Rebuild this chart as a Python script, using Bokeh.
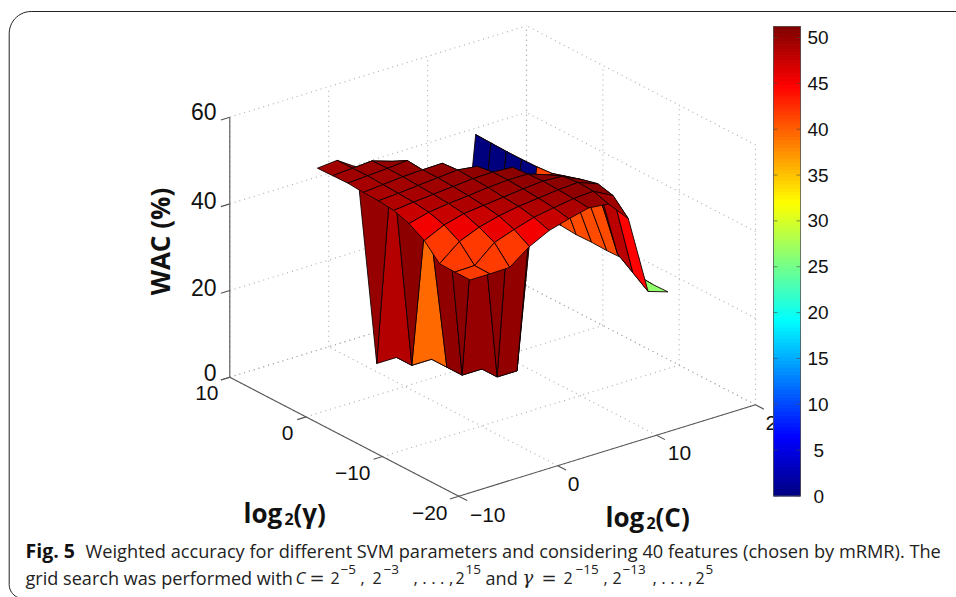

import numpy as np
from bokeh.plotting import figure
from bokeh.models import Range1d
from bokeh.core.properties import value
from bokeh.embed import file_html
from bokeh.resources import INLINE

# ---------- data ----------
log2_c = [-5, -3, -1, 1, 3, 5, 7, 9, 11, 13, 15]
log2_gamma = [-15, -13, -11, -9, -7, -5, -3, -1, 1, 3, 5]
wac_c_m5 = [41.8, 41.8, 41.9, 45.4, 47.5, 48.7, 49.1, 49.2, 49.5, 49.4, 49.3]
wac_c_m3 = [41.8, 41.9, 45.6, 47.6, 48.7, 49.2, 49.4, 49.6, 49.8, 49.7, 49.7]
wac_c_m1 = [41.9, 45.8, 47.5, 48.8, 49.3, 49.6, 49.8, 50.0, 50.1, 50.0, 46.7]
wac_c_1 = [45.3, 47.4, 48.7, 49.3, 49.7, 50.0, 50.2, 50.2, 50.5, 48.5, 0]
wac_c_3 = [47.6, 48.8, 49.5, 49.8, 50.2, 50.4, 50.6, 50.3, 39.5, 0, 0]
wac_c_5 = [48.9, 49.6, 50.0, 50.3, 50.5, 50.5, 50.0, 0, 0, 0, 0]
wac_c_7 = [50.0, 50.3, 50.5, 50.7, 50.5, 50.2, 0, 0, 0, 0, 0]
wac_c_9 = [49.5, 50.6, 50.8, 50.4, 48.9, 41.5, 0, 0, 0, 0, 0]
wac_c_11 = [44.7, 48.2, 49.1, 48.2, 47.1, 46.0, 45.7, 45.6, 45.6, 45.7, 45.8]
wac_c_13 = [26.5, 29.0, 31.5, 41.0, 41.0, 41.0, 41.0, 41.0, 41.0, 41.0, 41.0]
wac_c_15 = [25.0, 24.9, 25.0, 27.3, 27.2, 27.3, 27.2, 27.5, 27.3, 27.3, 27.3]
wac_rows = [wac_c_m5, wac_c_m3, wac_c_m1, wac_c_1, wac_c_3, wac_c_5, wac_c_7,
            wac_c_9, wac_c_11, wac_c_13, wac_c_15]

c_ticks = [-10, 0, 10, 20]
gamma_ticks = [-20, -10, 0, 10]
z_ticks = [0, 20, 40, 60]
cbar_ticks = [0, 5, 10, 15, 20, 25, 30, 35, 40, 45, 50]
cbar_max = 51.2

# ---------- oblique 3-D projection onto page pixels ----------
FX, FY = 458.3, 495.7      # corner C=-10, gamma=-20, z=0
CX, CY = (755 - FX) / 30, (404.3 - FY) / 30
GX, GY = (229.3 - FX) / 30, (376.7 - FY) / 30
ZS = 260 / 60


def proj(c, g, z):
    return (FX + (c + 10) * CX + (g + 20) * GX,
            FY + (c + 10) * CY + (g + 20) * GY - z * ZS)


def jet(v, vmax=51.2):
    t = min(max(v / vmax, 0), 1)
    f = lambda a: min(max(a, 0), 1)
    r = f(min(4 * t - 1.5, -4 * t + 4.5))
    g = f(min(4 * t - 0.5, -4 * t + 3.5))
    b = f(min(4 * t + 0.5, -4 * t + 2.5))
    return "#%02x%02x%02x" % (int(r * 255), int(g * 255), int(b * 255))


p = figure(width=956, height=597, x_range=Range1d(0, 956), y_range=Range1d(597, 0),
           toolbar_location=None, output_backend="svg", min_border=0)
p.xaxis.visible = False
p.yaxis.visible = False
p.grid.visible = False
p.outline_line_color = None
p.background_fill_color = "white"


def seg(a, b, **kw):
    p.line([a[0], b[0]], [a[1], b[1]], **kw)


# card frame
t = np.linspace(0, np.pi / 2, 14)
R = 22
FR_X, FR_T = 8.7, 11
frame_x = [FR_X] + [FR_X + R - R * np.cos(a) for a in t] + [956]
frame_y = [584] + [FR_T + R - R * np.sin(a) for a in t] + [FR_T]
p.line(frame_x, frame_y, line_color="#222222", line_width=1)
p.line([FR_X + 14 - 14 * np.cos(a) for a in t], [584 + 14 * np.sin(a) for a in t],
       line_color="#222222", line_width=1)

# dotted box grid
dot = dict(line_color="#b0b0b0", line_width=1.2, line_dash="1 4")
cmin, cmax, gmin, gmax = c_ticks[0], c_ticks[-1], gamma_ticks[0], gamma_ticks[-1]
zmin, zmax = z_ticks[0], z_ticks[-1]
for c in c_ticks:
    seg(proj(c, gmin, 0), proj(c, gmax, 0), **dot)
    seg(proj(c, gmax, zmin), proj(c, gmax, zmax), **dot)
for g in gamma_ticks:
    seg(proj(cmin, g, 0), proj(cmax, g, 0), **dot)
    seg(proj(cmax, g, zmin), proj(cmax, g, zmax), **dot)
for z in z_ticks:
    seg(proj(cmin, gmax, z), proj(cmax, gmax, z), **dot)
    seg(proj(cmax, gmin, z), proj(cmax, gmax, z), **dot)

# solid axes + ticks
ax = dict(line_color="#555555", line_width=1.1)
seg(proj(cmin, gmax, zmin), proj(cmin, gmax, zmax), **ax)
seg(proj(cmin, gmin, 0), proj(cmin, gmax, 0), **ax)
seg(proj(cmin, gmin, 0), proj(cmax, gmin, 0), **ax)
for z in z_ticks:
    seg(proj(cmin, gmax, z), proj(cmin - 0.9, gmax, z), **ax)
for g in gamma_ticks:
    seg(proj(cmin, g, 0), proj(cmin - 0.9, g, 0), **ax)
for c in c_ticks:
    seg(proj(c, gmin, 0), proj(c, gmin - 1.1, 0), **ax)

# tick labels
SANS = value("Liberation Sans")


def txt(x, y, s, size="19px", font=SANS, align="left", baseline="middle",
        style="normal", angle=0.0, color="#111111"):
    p.text([x], [y], text=[s], text_font=font, text_font_size=value(size),
           text_align=align, text_baseline=baseline, text_font_style=style,
           angle=[angle], text_color=color)


for z, y in zip(z_ticks, [372, 287, 200, 111]):
    txt(216, y, str(z), size="23px", align="right")
for g, (x, y) in zip(gamma_ticks, [(447, 512), (370, 472), (293, 432), (218, 392)]):
    txt(x, y, str(g).replace("-", "\u2212"), size="21px", align="right")
for c, (x, y) in zip(c_ticks, [(505, 514), (573, 483), (679, 452), (765, 422)]):
    txt(x, y, str(c).replace("-", "\u2212"), size="21px",
        align="right" if c == -10 else ("center" if c < 20 else "left"))

# surface: back to front, every facet coloured by its lowest-index corner
xs, ys, fills = [], [], []
for k in range(len(log2_c) - 2, -1, -1):
    for j in range(len(log2_gamma) - 2, -1, -1):
        corners = [(k, j), (k + 1, j), (k + 1, j + 1), (k, j + 1)]
        pts = [proj(log2_c[a], log2_gamma[b], wac_rows[a][b]) for a, b in corners]
        xs.append([q[0] for q in pts])
        ys.append([q[1] for q in pts])
        fills.append(jet(wac_rows[k][j]))
p.patches(xs, ys, fill_color=fills, line_color="#100000", line_width=0.9, line_join="round")

# colour bar
BX0, BX1, BY0, BY1 = 773, 800, 495.5, 26
levels = np.linspace(0, cbar_max, 129)
to_y = lambda v: BY0 + (BY1 - BY0) * v / cbar_max
bar_cols = [jet((a + b) / 2) for a, b in zip(levels[:-1], levels[1:])]
p.quad(left=BX0, right=BX1, bottom=[to_y(v) for v in levels[:-1]], top=[to_y(v) for v in levels[1:]],
       fill_color=bar_cols, line_color=bar_cols, line_width=1)
p.line([BX0, BX1, BX1, BX0, BX0], [BY0, BY0, BY1, BY1, BY0], line_color="#555555", line_width=0.8)
for v in cbar_ticks:
    y = to_y(v)
    seg((BX0, y), (BX0 + 4, y), line_color="#444444", line_width=0.6)
    seg((BX1 - 4, y), (BX1, y), line_color="#444444", line_width=0.6)
    txt(807 if v >= 10 else 813, y, str(v), size="19px")

# axis titles
LAB = value("Open Sans")
txt(159, 241, "WAC (%)", size="26px", font=LAB, style="bold", align="center", angle=np.pi / 2)
txt(243, 512, "log", size="26px", font=LAB, style="bold", baseline="alphabetic")
txt(284, 518, "2", size="16px", font=LAB, style="bold", baseline="alphabetic")
txt(293, 512, "(\u03b3)", size="26px", font=LAB, style="bold", baseline="alphabetic")
txt(605, 516, "log", size="26px", font=LAB, style="bold", baseline="alphabetic")
txt(646, 522, "2", size="16px", font=LAB, style="bold", baseline="alphabetic")
txt(655, 516, "(C)", size="26px", font=LAB, style="bold", baseline="alphabetic")

# caption
CAP = value("Open Sans")
L1, L2, SUP = 550, 577, 569
cap = dict(font=CAP, baseline="alphabetic", color="#222222")
txt(25, L1, "Fig. 5", size="19.5px", font=CAP, style="bold", baseline="alphabetic", color="#111111")
txt(85, L1, "Weighted accuracy for different SVM parameters and considering 40 features (chosen by mRMR). The",
    size="18.2px", **cap)
txt(25, L2, "grid search was performed with", size="18.1px", **cap)
txt(295, L2, "C", size="17px", style="italic", **cap)
txt(309, L2, "=", size="18px", font=value("DejaVu Sans"), baseline="alphabetic", color="#222222")
txt(330, L2, "2", size="16px", **cap)
txt(340, SUP, "\u22125", size="13.5px", **cap)
txt(360, L2, ",", size="16px", **cap)
txt(372, L2, "2", size="16px", **cap)
txt(383, SUP, "\u22123", size="13.5px", **cap)
txt(413, L2, ", . . . ,", size="17px", **cap)
txt(455, L2, "2", size="16px", **cap)
txt(465, SUP, "15", size="13.5px", **cap)
txt(485, L2, "and", size="18.1px", **cap)
txt(522, L2, "\u03b3", size="18px", font=value("DejaVu Serif"), style="italic", baseline="alphabetic", color="#222222")
txt(541, L2, "=", size="18px", font=value("DejaVu Sans"), baseline="alphabetic", color="#222222")
txt(563, L2, "2", size="16px", **cap)
txt(575, SUP, "\u221215", size="13.5px", **cap)
txt(603, L2, ",", size="16px", **cap)
txt(612, L2, "2", size="16px", **cap)
txt(622, SUP, "\u221213", size="13.5px", **cap)
txt(652, L2, ", . . . ,", size="17px", **cap)
txt(695, L2, "2", size="16px", **cap)
txt(705, SUP, "5", size="13.5px", **cap)

open("out.html", "w").write(file_html(p, INLINE))
